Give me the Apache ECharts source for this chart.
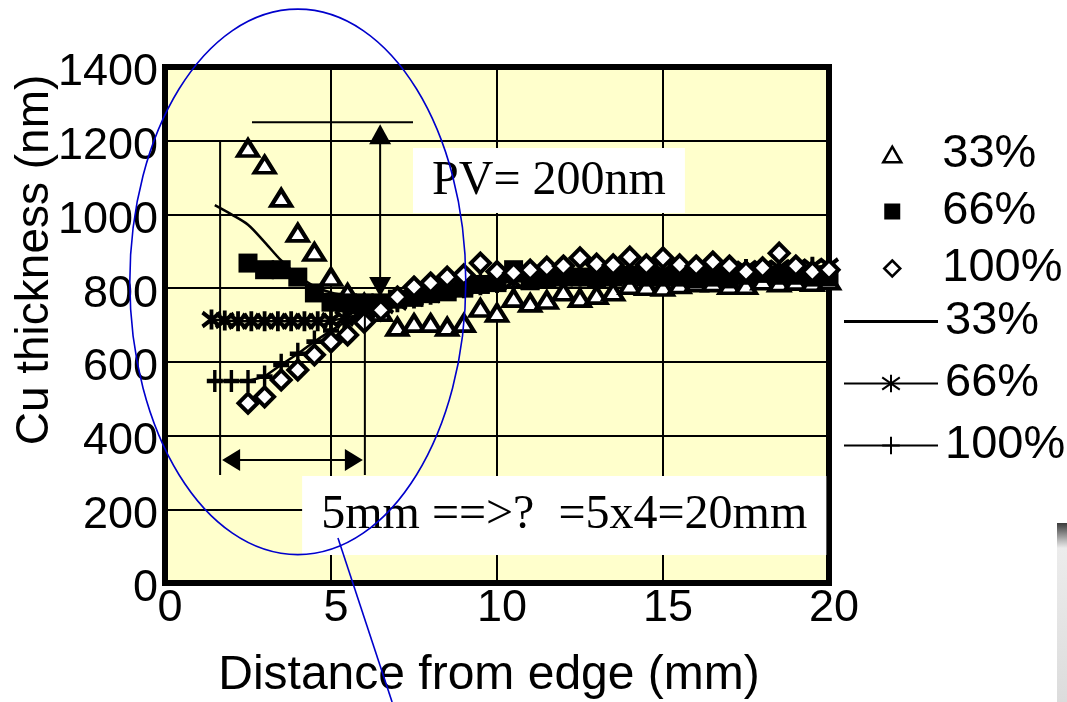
<!DOCTYPE html>
<html>
<head>
<meta charset="utf-8">
<script src="https://cdn.jsdelivr.net/npm/echarts@6/dist/echarts.min.js"></script>
<style>
  html, body { margin: 0; padding: 0; background: #fff; }
  #chart { width: 1067px; height: 702px; }
</style>
</head>
<body>
<div id="chart"></div>
<script>
// axis ticks
var xTicks = [0, 5, 10, 15, 20];
var yTicks = [0, 200, 400, 600, 800, 1000, 1200, 1400];

// measured points (open triangle / filled square / open diamond)
var markX = [2.5, 3, 3.5, 4, 4.5, 5, 5.5, 6, 6.5, 7, 7.5, 8, 8.5, 9, 9.5, 10, 10.5, 11,
  11.5, 12, 12.5, 13, 13.5, 14, 14.5, 15, 15.5, 16, 16.5, 17, 17.5, 18, 18.5, 19, 19.5, 20];
var tri33 = [1180, 1135, 1045, 950, 898, 830, 787, 760, 735, 695, 705, 705, 695, 705, 746, 733, 773, 760,
  768, 790, 773, 781, 790, 808, 805, 803, 810, 815, 815, 808, 808, 820, 815, 819, 816, 820];
var sq66 = [868, 850, 850, 830, 787, 762, 760, 760, 760, 770, 775, 785, 790, 800, 810, 815, 850, 820,
  825, 830, 830, 825, 830, 835, 830, 830, 830, 825, 830, 825, 835, 840, 835, 835, 830, 830];
var dia100 = [488, 505, 551, 578, 619, 654, 673, 708, 740, 776, 803, 814, 830, 836, 868, 845, 841, 849,
  857, 860, 882, 865, 863, 884, 863, 882, 863, 860, 871, 860, 844, 855, 895, 860, 844, 850];

// simulated curves
var line33X = [1.5, 2, 2.5, 3, 3.5, 4, 4.5, 5, 5.5, 6, 7, 8, 9, 10, 12, 14, 16, 18, 20];
var line33Y = [1025, 1000, 972, 925, 875, 835, 805, 788, 778, 772, 772, 780, 790, 800, 810, 815, 820, 825, 830];

var line66X = [1.4, 1.8, 2.2, 2.6, 3.0, 3.4, 3.8, 4.2, 4.6, 5.0, 5.4, 5.8, 6.2, 6.6, 7.0,
  7.5, 8, 8.5, 9, 9.5, 10, 10.5, 11, 11.5, 12, 12.5, 13, 13.5, 14, 14.5, 15, 15.5, 16, 16.5, 17,
  17.5, 18, 18.5, 19, 19.5, 20];
var line66Y = [715, 712, 710, 710, 710, 710, 710, 710, 710, 712, 718, 728, 740, 752, 762,
  772, 782, 792, 800, 808, 814, 818, 822, 826, 830, 832, 835, 838, 840, 842, 844, 846, 848, 850, 851,
  852, 854, 855, 856, 858, 860];

var line100X = [1.5, 2, 2.5, 3, 3.5, 4, 4.5, 5, 5.5, 6, 6.5, 7, 7.5, 8, 8.5, 9, 9.5, 10, 10.5,
  11, 11.5, 12, 12.5, 13, 13.5, 14, 14.5, 15, 15.5, 16, 16.5, 17, 17.5, 18, 18.5, 19, 19.5, 20];
var line100Y = [548, 548, 548, 560, 592, 622, 655, 685, 712, 735, 755, 770, 782, 792, 800, 808, 814, 818, 822,
  826, 829, 832, 834, 836, 838, 840, 842, 844, 845, 846, 847, 848, 849, 850, 851, 852, 853, 854];

function pairs(xs, ys) {
  return xs.map(function (x, i) { return [x, ys[i]]; });
}

var triPath = 'path://M5,0L10,8.66L0,8.66Z';
var sqPath = 'path://M0,0H10V10H0Z';
var diaPath = 'path://M5,0L10,5L5,10L0,5Z';
var starPath = 'path://M0,-10L0,10M-9,-7L9,7M-9,7L9,-7';
var plusPath = 'path://M0,-10L0,10M-7,0L7,0';

var sans = 'Liberation Sans';

var chart = echarts.init(document.getElementById('chart'));

var option = {
  animation: false,
  backgroundColor: '#fff',
  grid: {
    left: 165, right: 238, top: 67, bottom: 119,
    outerBoundsMode: 'none',
    show: true,
    backgroundColor: '#FFFFCC',
    borderColor: '#000',
    borderWidth: 6
  },
  xAxis: {
    type: 'value',
    min: xTicks[0],
    max: xTicks[xTicks.length - 1],
    interval: xTicks[1] - xTicks[0],
    name: 'Distance from edge (mm)',
    nameLocation: 'middle',
    nameGap: 69,
    nameMoveOverlap: false,
    nameTextStyle: { fontFamily: sans, fontSize: 48, color: '#000', padding: [0, 16, 0, 0] },
    axisLine: { show: false },
    axisTick: { show: false },
    axisLabel: {
      fontFamily: sans, fontSize: 45, color: '#000', margin: 3,
      formatter: function (v) { return '{v|' + v + '}'; },
      rich: { v: { fontFamily: sans, fontSize: 45, color: '#000', padding: [0, 0, 0, 10] } }
    },
    splitLine: { show: true, lineStyle: { color: '#000', width: 2 } }
  },
  yAxis: {
    type: 'value',
    min: yTicks[0],
    max: yTicks[yTicks.length - 1],
    interval: yTicks[1] - yTicks[0],
    name: 'Cu thickness (nm)',
    nameLocation: 'middle',
    nameGap: 107,
    nameMoveOverlap: false,
    nameTextStyle: { fontFamily: sans, fontSize: 46, color: '#000', padding: [0, 0, 0, 130] },
    axisLine: { show: false },
    axisTick: { show: false },
    axisLabel: {
      fontFamily: sans, fontSize: 45, color: '#000', margin: 7,
      verticalAlign: 'top', lineHeight: 12,
      formatter: function (v) { return String(v); }
    },
    splitLine: { show: true, lineStyle: { color: '#000', width: 2 } }
  },
  legend: [
    {
      orient: 'vertical',
      left: 882, top: 131, padding: 0,
      itemWidth: 18, itemHeight: 16, itemGap: 10,
      selectedMode: false,
      formatter: function (name) { return '{t|' + name + '}'; },
      textStyle: {
        fontFamily: sans, fontSize: 47, color: '#000', lineHeight: 46,
        rich: { t: { fontFamily: sans, fontSize: 47, color: '#000', lineHeight: 46, padding: [0, 0, 0, 36] } }
      },
      data: [
        { name: '33%', icon: triPath, itemStyle: { borderWidth: 2.5 } },
        { name: '66%', icon: sqPath },
        { name: '100%', icon: diaPath, itemStyle: { borderWidth: 2.5 } }
      ]
    },
    {
      orient: 'vertical',
      left: 843, top: 298, padding: 0,
      itemWidth: 94, itemHeight: 22, itemGap: 15,
      selectedMode: false,
      formatter: function (name) { return '{t|' + name.split(' ')[0] + '}'; },
      textStyle: {
        fontFamily: sans, fontSize: 47, color: '#000', lineHeight: 46,
        rich: { t: { fontFamily: sans, fontSize: 47, color: '#000', lineHeight: 46, padding: [0, 0, 0, 2] } }
      },
      data: [
        { name: '33% line', icon: 'path://M0,0H96V3H0Z', itemStyle: { color: '#000', borderWidth: 0 } },
        { name: '66% line' },
        { name: '100% line' }
      ]
    }
  ],
  series: [
    {
      name: '33% line', type: 'line', z: 2,
      data: pairs(line33X, line33Y),
      symbol: 'none', smooth: 0.3,
      lineStyle: { color: '#000', width: 2.5 },
      itemStyle: { color: '#000' }
    },
    {
      name: '66% line', type: 'line', z: 2,
      data: pairs(line66X, line66Y),
      symbol: starPath, symbolSize: [18, 20],
      lineStyle: { color: '#000', width: 2.5 },
      itemStyle: { color: '#000', borderColor: '#000', borderWidth: 4 }
    },
    {
      name: '100% line', type: 'line', z: 2,
      data: pairs(line100X, line100Y),
      symbol: plusPath, symbolSize: [16, 22],
      lineStyle: { color: '#000', width: 2.5 },
      itemStyle: { color: '#000', borderColor: '#000', borderWidth: 4 }
    },
    {
      name: '33%', type: 'scatter', z: 3,
      data: pairs(markX, tri33),
      symbol: 'triangle', symbolSize: [20, 16],
      itemStyle: { color: '#fff', borderColor: '#000', borderWidth: 4, opacity: 1 }
    },
    {
      name: '66%', type: 'scatter', z: 4,
      data: pairs(markX, sq66),
      symbol: 'rect', symbolSize: 19,
      itemStyle: { color: '#000', opacity: 1 }
    },
    {
      name: '100%', type: 'scatter', z: 5,
      data: pairs(markX, dia100),
      symbol: 'diamond', symbolSize: [19, 19],
      itemStyle: { color: '#fff', borderColor: '#000', borderWidth: 4, opacity: 1 }
    }
  ]
};

chart.setOption(option);

// annotations, in axis units
function px(x, y) { return chart.convertToPixel({ gridIndex: 0 }, [x, y]); }

var a = px(2.62, 1250), b = px(7.47, 1250);
var pvTop = px(6.48, 1245), pvBot = px(6.48, 776);
var l1a = px(1.66, 1200), l1b = px(1.66, 293);
var l2a = px(6.02, 768), l2b = px(6.02, 293);
var arL = px(1.66, 334), arR = px(6.02, 334);
var pvBoxA = px(7.47, 1180), pvBoxB = px(15.66, 1004);
var mmBoxA = px(4.13, 290), mmBoxB = px(19.92, 76);
var ellC = px(4.0, 817), ellR = px(9.06, 77);
var ptrA = px(5.21, 122), ptrB = px(6.84, -323);

var black = { stroke: '#000', lineWidth: 2 };
var blue = { stroke: '#0000CC', lineWidth: 1.6, fill: null };

chart.setOption({
  graphic: [
    { type: 'rect', z: 10, shape: { x: pvBoxA[0], y: pvBoxA[1], width: pvBoxB[0] - pvBoxA[0], height: pvBoxB[1] - pvBoxA[1] }, style: { fill: '#fff' } },
    { type: 'text', z: 11, x: (pvBoxA[0] + pvBoxB[0]) / 2, y: (pvBoxA[1] + pvBoxB[1]) / 2 + 1,
      style: { text: 'PV= 200nm', font: '48px "Liberation Serif"', fill: '#000', align: 'center', verticalAlign: 'middle' } },
    { type: 'rect', z: 10, shape: { x: mmBoxA[0], y: mmBoxA[1], width: mmBoxB[0] - mmBoxA[0], height: mmBoxB[1] - mmBoxA[1] }, style: { fill: '#fff' } },
    { type: 'text', z: 11, x: (mmBoxA[0] + mmBoxB[0]) / 2, y: (mmBoxA[1] + mmBoxB[1]) / 2,
      style: { text: '5mm ==>?  =5x4=20mm', font: '48px "Liberation Serif"', fill: '#000', align: 'center', verticalAlign: 'middle' } },

    { type: 'line', z: 12, shape: { x1: a[0], y1: a[1], x2: b[0], y2: b[1] }, style: black },
    { type: 'line', z: 12, shape: { x1: pvTop[0], y1: pvTop[1] + 10, x2: pvBot[0], y2: pvBot[1] - 10 }, style: black },
    { type: 'polygon', z: 12, shape: { points: [[pvTop[0], pvTop[1]], [pvTop[0] - 11, pvTop[1] + 20], [pvTop[0] + 11, pvTop[1] + 20]] }, style: { fill: '#000' } },
    { type: 'polygon', z: 12, shape: { points: [[pvBot[0], pvBot[1]], [pvBot[0] - 11, pvBot[1] - 20], [pvBot[0] + 11, pvBot[1] - 20]] }, style: { fill: '#000' } },
    { type: 'line', z: 12, shape: { x1: l1a[0], y1: l1a[1], x2: l1b[0], y2: l1b[1] }, style: black },
    { type: 'line', z: 12, shape: { x1: l2a[0], y1: l2a[1], x2: l2b[0], y2: l2b[1] }, style: black },
    { type: 'line', z: 12, shape: { x1: arL[0] + 10, y1: arL[1], x2: arR[0] - 10, y2: arR[1] }, style: black },
    { type: 'polygon', z: 12, shape: { points: [[arL[0] + 2, arL[1]], [arL[0] + 20, arL[1] - 11], [arL[0] + 20, arL[1] + 11]] }, style: { fill: '#000' } },
    { type: 'polygon', z: 12, shape: { points: [[arR[0] - 2, arR[1]], [arR[0] - 20, arR[1] - 11], [arR[0] - 20, arR[1] + 11]] }, style: { fill: '#000' } },

    { type: 'ellipse', z: 13, shape: { cx: ellC[0], cy: ellC[1], rx: ellR[0] - ellC[0], ry: ellR[1] - ellC[1] }, style: blue },
    { type: 'line', z: 13, shape: { x1: ptrA[0], y1: ptrA[1], x2: ptrB[0], y2: ptrB[1] }, style: blue },

    { type: 'rect', z: 1, shape: { x: 1057, y: 523, width: 10, height: 179 },
      style: { fill: new echarts.graphic.LinearGradient(0, 0, 0, 1, [
        { offset: 0, color: '#3a3a3a' }, { offset: 0.1, color: '#bdbdbd' },
        { offset: 0.14, color: '#ececec' }, { offset: 1, color: '#dcdcdc' }]) } }
  ]
});
</script>
</body>
</html>
